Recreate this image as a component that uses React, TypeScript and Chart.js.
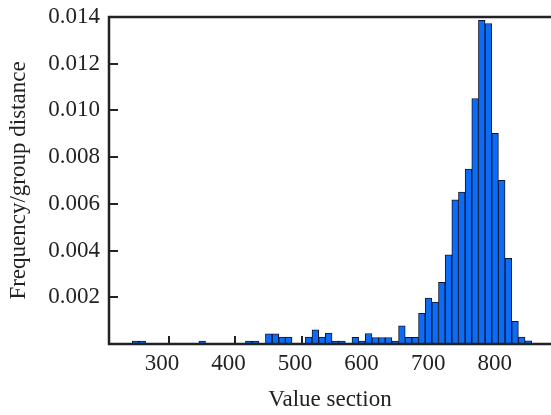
import React, { useEffect, useRef } from "react";
import { Chart, registerables } from "chart.js";

Chart.register(...registerables);

// Histogram bins (bin centres, width 10) and frequency / group distance
const binCenters = [
  250, 260, 270, 280, 290, 300, 310, 320, 330, 340,
  350, 360, 370, 380, 390, 400, 410, 420, 430, 440,
  450, 460, 470, 480, 490, 500, 510, 520, 530, 540,
  550, 560, 570, 580, 590, 600, 610, 620, 630, 640,
  650, 660, 670, 680, 690, 700, 710, 720, 730, 740,
  750, 760, 770, 780, 790, 800, 810, 820, 830, 840,
];
const frequencies = [
  0.00013, 0.00013, 0, 0, 0, 0, 0, 0, 0, 0,
  0.00013, 0, 0, 0, 0, 0, 0, 0.00013, 0.00013, 0,
  0.00044, 0.00044, 0.0003, 0.0003, 0, 0, 0.0003, 0.00061, 0.0003, 0.00047,
  0.00013, 0.00013, 0, 0.00029, 0.00013, 0.00045, 0.00028, 0.00028, 0.00028, 0.00013,
  0.00078, 0.00029, 0.00029, 0.00131, 0.00197, 0.0018, 0.00264, 0.00382, 0.00617, 0.0065,
  0.00749, 0.01051, 0.01386, 0.01372, 0.00902, 0.00701, 0.00367, 0.00097, 0.0003, 0.00014,
];
const xTickValues = [300, 400, 500, 600, 700, 800];
const yTickValues = [0.002, 0.004, 0.006, 0.008, 0.01, 0.012, 0.014];
const xRange = [210, 874];
const yRange = [0, 0.014];
const xTitle = "Value section";
const yTitle = "Frequency/group distance";

const INK = "#222222";
const FONT = "'Liberation Serif', 'Times New Roman', serif";

const framePlugin = {
  id: "frame",
  beforeDatasetsDraw(chart: any) {
    const { ctx, chartArea: a, scales } = chart;
    ctx.save();
    ctx.strokeStyle = INK;
    ctx.lineWidth = 2;
    ctx.beginPath();
    scales.x.ticks.forEach((t: any) => {
      const px = Math.round(scales.x.getPixelForValue(t.value));
      ctx.moveTo(px, a.bottom);
      ctx.lineTo(px, a.bottom - 8);
    });
    scales.y.ticks.forEach((t: any) => {
      const py = Math.round(scales.y.getPixelForValue(t.value));
      ctx.moveTo(a.left, py);
      ctx.lineTo(a.left + 9, py);
    });
    ctx.stroke();
    ctx.restore();
  },
  afterDatasetsDraw(chart: any) {
    const { ctx, chartArea: a } = chart;
    ctx.save();
    ctx.strokeStyle = INK;
    ctx.lineWidth = 2.5;
    ctx.beginPath();
    ctx.moveTo(a.right, a.top);
    ctx.lineTo(a.left, a.top);
    ctx.lineTo(a.left, a.bottom);
    ctx.lineTo(a.right, a.bottom);
    ctx.stroke();
    ctx.restore();
  },
};

export default function App() {
  const canvasRef = useRef<HTMLCanvasElement | null>(null);

  useEffect(() => {
    const canvas = canvasRef.current;
    if (!canvas) return;
    const chart = new Chart(canvas, {
      type: "bar",
      data: {
        datasets: [
          {
            data: binCenters.map((x, i) => ({ x, y: frequencies[i] })),
            backgroundColor: "#0a6cf7",
            borderColor: "#14142a",
            borderWidth: 1,
            borderSkipped: "start",
            barPercentage: 1,
            categoryPercentage: 1,
          },
        ],
      },
      options: {
        animation: false,
        responsive: false,
        devicePixelRatio: 1,
        layout: { padding: { top: 17, right: 0, left: 0, bottom: 0 } },
        plugins: { legend: { display: false }, tooltip: { enabled: false } },
        scales: {
          x: {
            type: "linear",
            offset: false,
            min: xRange[0],
            max: xRange[1],
            grid: { display: false, drawTicks: false, offset: false },
            border: { display: false },
            afterBuildTicks: (scale: any) => {
              scale.ticks = xTickValues.map((v) => ({ value: v }));
            },
            afterFit: (scale: any) => {
              scale.height = 71;
              scale.paddingLeft = 0;
              scale.paddingRight = 0;
            },
            ticks: {
              color: INK,
              font: { family: FONT, size: 23 },
              padding: 6,
              labelOffset: -7,
              maxRotation: 0,
              callback: (v: any) => String(v),
            },
            title: {
              display: true,
              text: xTitle,
              color: INK,
              font: { family: FONT, size: 23 },
              padding: { top: 0, bottom: 1 },
            },
          },
          y: {
            type: "linear",
            min: yRange[0],
            max: yRange[1],
            grid: { display: false, drawTicks: false },
            border: { display: false },
            afterBuildTicks: (scale: any) => {
              scale.ticks = yTickValues.map((v) => ({ value: v }));
            },
            afterFit: (scale: any) => {
              scale.width = 109;
              scale.paddingTop = 0;
              scale.paddingBottom = 0;
            },
            ticks: {
              color: INK,
              font: { family: FONT, size: 23 },
              padding: 9,
              callback: (v: any) => Number(v).toFixed(3),
            },
            title: {
              display: true,
              text: yTitle,
              color: INK,
              font: { family: FONT, size: 23 },
              padding: { top: 5, bottom: 0 },
            },
          },
        },
      },
      plugins: [framePlugin],
    });
    return () => chart.destroy();
  }, []);

  return (
    <div style={{ position: "absolute", left: 0, top: 0, width: 551, height: 415, background: "#fff" }}>
      <canvas ref={canvasRef} width={551} height={415} style={{ display: "block" }} />
    </div>
  );
}
